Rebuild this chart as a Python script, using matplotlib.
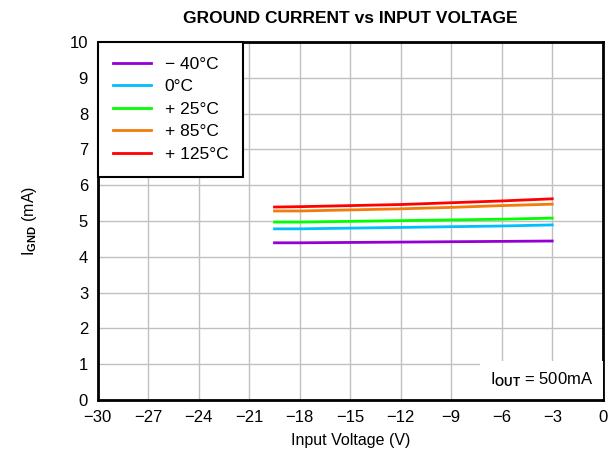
import numpy as np
import matplotlib
matplotlib.use('Agg')
import matplotlib.pyplot as plt

plt.rcParams['font.family'] = ['Liberation Sans', 'DejaVu Sans']
plt.rcParams['mathtext.fontset'] = 'custom'
plt.rcParams['mathtext.rm'] = 'Liberation Sans'
plt.rcParams['mathtext.it'] = 'Liberation Sans'
plt.rcParams['mathtext.bf'] = 'Liberation Sans:bold'

##Data
vin = [-19.5, -18, -15, -12, -9, -6, -3]

ignd_m40 = [4.39, 4.39, 4.40, 4.41, 4.42, 4.43, 4.44]
ignd_0 = [4.78, 4.78, 4.80, 4.82, 4.84, 4.86, 4.89]
ignd_25 = [4.97, 4.97, 4.99, 5.01, 5.03, 5.05, 5.08]
ignd_85 = [5.28, 5.28, 5.31, 5.34, 5.38, 5.43, 5.47]
ignd_125 = [5.39, 5.40, 5.43, 5.46, 5.51, 5.56, 5.62]

labels = ['\u2212 40\u00b0C', '0\u00b0C', '+ 25\u00b0C', '+ 85\u00b0C', '+ 125\u00b0C']
colors = ['#9400D3', '#00BFFF', '#00FF00', '#F27B0C', '#FF0000']
x_ticks = [-30, -27, -24, -21, -18, -15, -12, -9, -6, -3, 0]

##Plot
fig = plt.figure(figsize=(6.15, 4.58), dpi=100)
ax = fig.add_axes([0.159, 0.127, 0.821, 0.781])

for y, lab, c in zip([ignd_m40, ignd_0, ignd_25, ignd_85, ignd_125], labels, colors):
    ax.plot(vin, y, color=c, lw=2, label=lab)

ax.set_xlim(-30, 0)
ax.set_ylim(0, 10)
ax.set_xticks(x_ticks)
ax.set_xticklabels([('\u2212%d' % -t) if t < 0 else '0' for t in x_ticks])
ax.set_yticks(range(0, 11))
ax.grid(True, color='#c0c0c0', lw=1)
ax.set_axisbelow(True)
ax.tick_params(length=0, labelsize=12, pad=7)
for s in ax.spines.values():
    s.set_linewidth(2)

ax.set_title('GROUND CURRENT vs INPUT VOLTAGE', fontsize=12.5, fontweight='bold', pad=14)
ax.set_xlabel('Input Voltage (V)', fontsize=11.5, labelpad=6)
ax.set_ylabel(r'I$_{\mathbf{GND}}$ (mA)', fontsize=11.5, labelpad=22)

leg = ax.legend(loc='upper left', fontsize=12.5, frameon=True, fancybox=False,
                edgecolor='black', framealpha=1, borderaxespad=0,
                handlelength=2.2, handletextpad=0.8, labelspacing=0.42, borderpad=0.85)
leg.get_frame().set_linewidth(1.5)

ax.text(-0.55, 0.3, r'I$_{\mathbf{OUT}}$ = 500mA', fontsize=12, ha='right', va='bottom',
        bbox=dict(facecolor='white', edgecolor='none', pad=7))

fig.savefig('out.png', dpi=100)
